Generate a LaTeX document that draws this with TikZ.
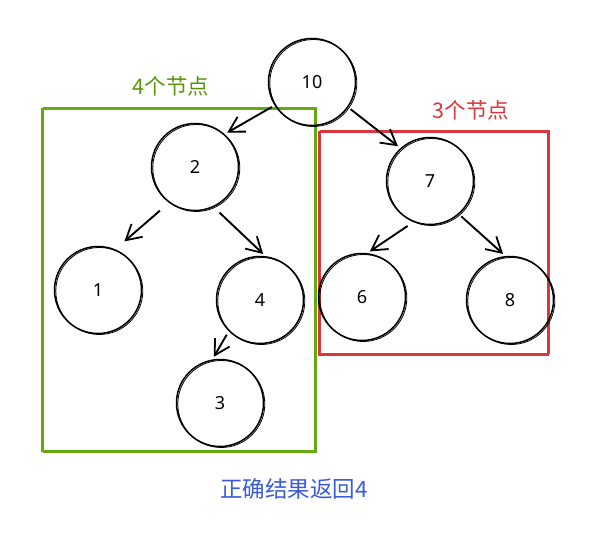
\documentclass[tikz,border=0pt]{standalone}
\usepackage{fontspec}
\setmainfont{Noto Sans}
\newfontfamily\cjk{Noto Sans CJK SC}
\usetikzlibrary{arrows.meta}
\definecolor{boxgreen}{HTML}{66A80F}
\definecolor{labelgreen}{HTML}{5C940D}
\definecolor{boxred}{HTML}{D9363E}
\definecolor{labelblue}{HTML}{3B5BDB}
\tikzset{
  vertex/.style={circle, draw, line width=1.5pt, minimum size=87pt, inner sep=0pt,
    font=\fontsize{18}{18}\selectfont,
    preaction={draw, line width=0.8pt, transform canvas={shift={(1.3pt,-1pt)}}}},
  link/.style={-{Straight Barb[length=15pt,width=17pt,line width=1.8pt]}, line width=1.9pt,
    shorten <=3pt, shorten >=3pt},
  note/.style={font=\cjk\fontsize{21.5}{21.5}\selectfont}
}
\begin{document}
\begin{tikzpicture}[x=1pt,y=-1pt]
  \useasboundingbox (0,0) rectangle (595,535);
  % boxes
  \begin{scope}[boxgreen, line width=1.5pt]
    \draw (42,109) rectangle (315,451);
    \draw[line width=0.7pt] (43.5,107.5) rectangle (316.5,452.5);
  \end{scope}
  \begin{scope}[boxred, line width=1.5pt]
    \draw (319,132) rectangle (548,355);
    \draw[line width=0.7pt] (320.5,130.5) rectangle (549.5,353.5);
  \end{scope}
  % tree
  \node[vertex] (10) at (312,82) {10};
  \node[vertex] (2) at (195,167) {2};
  \node[vertex] (7) at (430,181) {7};
  \node[vertex] (1) at (98,290) {1};
  \node[vertex] (4) at (260,300) {4};
  \node[vertex] (6) at (362,297) {6};
  \node[vertex] (8) at (510,300) {8};
  \node[vertex] (3) at (220,403) {3};
  \draw[link] (10.212) -- (2.48);
  \draw[link] (10.-35) -- (7.132);
  \draw[link, shorten <=12pt, shorten >=12pt] (2.234) -- (1.67);
  \draw[link, shorten <=8pt] (2.295) -- (4.83);
  \draw[link, shorten <=4pt] (4.225) -- (3.100);
  \draw[link, shorten <=7pt] (7.248) -- (6.83);
  \draw[link] (7.311) -- (8.96);
  % labels
  \node[note, text=labelgreen] (leftcount) at (171,86) {4个节点};
  \node[note, text=boxred] (rightcount) at (471,110) {3个节点};
  \node[note, text=labelblue, font=\cjk\fontsize{22.5}{22.5}\selectfont] (result) at (294,489) {正确结果返回4};
\end{tikzpicture}
\end{document}
